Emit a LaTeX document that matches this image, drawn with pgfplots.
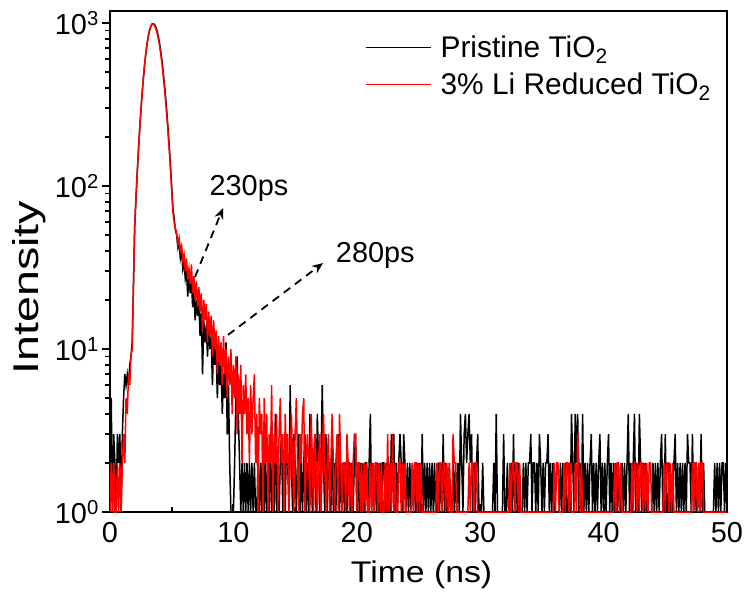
\documentclass[border=0pt]{standalone}
\usepackage{pgfplots}
\pgfplotsset{compat=1.18}
\usepackage{fontspec}
\setmainfont{Liberation Sans}
\usetikzlibrary{arrows.meta}
\begin{document}
\begin{tikzpicture}
\path[use as bounding box] (-110bp,-91bp) rectangle (636bp,512bp);
\begin{axis}[
  scale only axis, width=617bp, height=501bp,
  xmin=0, xmax=50, ymode=log, ymin=1, ymax=1186,
  xtick={0,10,...,50}, minor x tick num=1,
  ytick={1,10,100,1000},
  yticklabels={10\textsuperscript{0},10\textsuperscript{1},10\textsuperscript{2},10\textsuperscript{3}},
  xtick pos=bottom, ytick pos=left,
  xtick align=inside, ytick align=outside,
  major tick length=8bp, minor tick length=5bp,
  axis line style={line width=2.4bp},
  tick style={line width=1.8bp, black},
  /pgf/number format/assume math mode=true,
  tick label style={font=\fontsize{29}{34}\selectfont},
  xticklabel style={inner sep=0pt, yshift=-10bp},
  yticklabel style={inner sep=0pt, xshift=-3bp},
  xlabel={\scalebox{1.13}[1]{Time (ns)}},
  xlabel style={font=\fontsize{30}{36}\selectfont, at={(axis description cs:0.505,-0.1417)}, anchor=base, inner sep=0pt},
  ylabel={\scalebox{1.3}[1]{Intensity}},
  ylabel style={font=\fontsize{36}{43}\selectfont, at={(axis description cs:-0.159,0.448)}, anchor=north, inner sep=0pt},
  no markers,
  legend style={draw=none, fill=none, font=\fontsize{30}{36}\selectfont, at={(axis description cs:0.413,0.955)}, anchor=north west, inner sep=0pt, row sep=10bp, /tikz/every odd column/.style={column sep=7bp}},
  legend image code/.code={\draw[#1, line width=1.6bp] (0bp,0bp) -- (65bp,0bp);},
  legend cell align=left,
]
\addplot[black, line width=1.5bp] coordinates {
(0,2)(0.1,5)(0.2,1)(0.3,3)(0.4,2)(0.5,1)(0.6,3)(0.7,2)(0.8,3)(0.9,1)
(1,3)(1.1,5)(1.2,7)(1.3,6)(1.4,7)(1.5,6)(1.6,8)(1.7,9)(1.8,11)(1.9,24)
(2,56)(2.1,82)(2.2,117)(2.3,163)(2.4,219)(2.5,287)(2.6,366)(2.7,455)(2.8,550)(2.9,648)
(3,742)(3.1,829)(3.2,900)(3.3,952)(3.4,986)(3.5,990)(3.6,980)(3.7,950)(3.8,905)(3.9,840)
(4,765)(4.1,683)(4.2,598)(4.3,512)(4.4,430)(4.5,354)(4.6,286)(4.7,227)(4.8,176)(4.9,134)
(5,99)(5.1,73)(5.2,63)(5.3,54)(5.4,50)(5.5,42)(5.6,45)(5.7,36)(5.8,40)(5.9,31)
(6,34)(6.1,27)(6.2,30)(6.3,21)(6.4,28)(6.5,22)(6.6,26)(6.7,18)(6.8,23)(6.9,15)
(7,20)(7.1,16)(7.2,19)(7.3,12)(7.4,17)(7.5,7)(7.6,15)(7.7,11)(7.8,14)(7.9,9)
(8,13)(8.1,10)(8.2,12)(8.3,6)(8.4,11)(8.5,8)(8.6,10)(8.7,5)(8.8,9)(8.9,6)
(9,8)(9.1,4)(9.2,7)(9.3,5)(9.4,11)(9.5,3)(9.6,6)(9.7,2)(9.8,1)(9.9,1)
(10,1)(10.1,2)(10.2,5)(10.3,9)(10.4,4)(10.5,2)(10.6,1)(10.7,2)(10.8,1)(10.9,2)
(11,1)(11.1,2)(11.2,1)(11.3,2)(11.4,1)(11.5,2)(11.6,1)(11.7,2)(11.8,1)(11.9,1)
(12,2)(12.1,1)(12.2,2)(12.3,1)(12.4,3)(12.5,1)(12.6,2)(12.7,1)(12.8,2)(12.9,1)
(13,3)(13.1,1)(13.2,2)(13.3,1)(13.4,4)(13.5,1)(13.6,2)(13.7,1)(13.8,2)(13.9,3)
(14,1)(14.1,2)(14.2,1)(14.3,3)(14.4,2)(14.5,1)(14.6,6)(14.7,2)(14.8,1)(14.9,3)
(15,2)(15.1,1)(15.2,2)(15.3,3)(15.4,1)(15.5,2)(15.6,1)(15.7,2)(15.8,3)(15.9,1)
(16,2)(16.1,1)(16.2,4)(16.3,2)(16.4,1)(16.5,2)(16.6,3)(16.7,1)(16.8,4)(16.9,2)
(17,1)(17.1,2)(17.2,6)(17.3,2)(17.4,1)(17.5,3)(17.6,1)(17.7,2)(17.8,2)(17.9,1)
(18,3)(18.1,1)(18.2,2)(18.3,1)(18.4,2)(18.5,3)(18.6,1)(18.7,2)(18.8,1)(18.9,2)
(19,1)(19.1,2)(19.2,1)(19.3,2)(19.4,2)(19.5,1)(19.6,2)(19.7,1)(19.8,2)(19.9,3)
(20,1)(20.1,2)(20.2,1)(20.3,2)(20.4,1)(20.5,2)(20.6,1)(20.7,2)(20.8,2)(20.9,1)
(21,2)(21.1,4)(21.2,1)(21.3,2)(21.4,1)(21.5,2)(21.6,1)(21.7,2)(21.8,1)(21.9,2)
(22,1)(22.1,2)(22.2,2)(22.3,1)(22.4,2)(22.5,1)(22.6,2)(22.7,1)(22.8,3)(22.9,2)
(23,3)(23.1,1)(23.2,2)(23.3,1)(23.4,2)(23.5,3)(23.6,2)(23.7,1)(23.8,3)(23.9,2)
(24,1)(24.1,2)(24.2,1)(24.3,2)(24.4,1)(24.5,2)(24.6,1)(24.7,2)(24.8,1)(24.9,2)
(25,1)(25.1,2)(25.2,1)(25.3,3)(25.4,1)(25.5,2)(25.6,1)(25.7,2)(25.8,1)(25.9,2)
(26,1)(26.1,2)(26.2,1)(26.3,2)(26.4,1)(26.5,1)(26.6,2)(26.7,1)(26.8,2)(26.9,1)
(27,3)(27.1,1)(27.2,2)(27.3,1)(27.4,1)(27.5,2)(27.6,1)(27.7,1)(27.8,2)(27.9,1)
(28,2)(28.1,1)(28.2,2)(28.3,1)(28.4,4)(28.5,2)(28.6,1)(28.7,3)(28.8,4)(28.9,2)
(29,3)(29.1,4)(29.2,2)(29.3,3)(29.4,1)(29.5,2)(29.6,1)(29.7,2)(29.8,3)(29.9,1)
(30.1,1)(30.2,2)(30.3,1)(31,1)(31.1,2)(31.2,1)(31.3,4)(31.4,1)(31.8,1)(31.9,3)
(32,1)(32.1,1)(32.2,2)(32.3,1)(32.4,1)(32.5,2)(32.6,1)(32.7,3)(32.8,1)(32.9,2)
(33,1)(33.1,2)(33.2,1)(33.4,1)(33.5,2)(33.6,1)(33.7,2)(33.8,1)(33.9,2)
(34,2)(34.1,3)(34.2,1)(34.3,2)(34.4,2)(34.5,1)(34.6,2)(34.7,1)(34.8,3)(34.9,2)
(35,1)(35.1,2)(35.2,1)(35.3,2)(35.4,2)(35.5,3)(35.6,1)(35.7,2)(35.8,1)(35.9,2)
(36,1)(36.4,1)(36.5,2)(36.6,1)(36.7,2)(36.8,1)(36.9,2)(37,1)(37.1,1)(37.2,2)
(37.3,1)(37.4,4)(37.5,2)(37.6,1)(37.7,4)(37.8,2)(37.9,4)
(38,1)(38.1,2)(38.2,1)(38.3,4)(38.4,1)(38.5,2)(38.6,1)(38.7,2)(38.8,1)(38.9,2)
(39,3)(39.1,1)(39.2,2)(39.3,1)(39.4,2)(39.5,1)(39.6,2)(39.7,3)(39.8,1)(39.9,2)
(40,1)(40.1,2)(40.2,1)(40.3,2)(40.4,3)(40.5,1)(40.6,2)(40.7,1)(40.8,2)(40.9,1)
(41,2)(41.1,1)(41.2,2)(41.3,1)(41.4,1)(41.5,2)(41.6,1)(41.7,2)(41.8,1)(41.9,2)
(42,4)(42.1,1)(42.2,2)(42.3,1)(42.4,2)(42.5,4)(42.6,1)(42.7,2)(42.8,1)(42.9,4)
(43,2)(43.1,1)(43.2,2)(43.3,1)(43.4,2)(43.5,1)(43.9,1)
(44,2)(44.1,1)(44.2,2)(44.3,1)(44.4,2)(44.5,1)(44.6,2)(44.7,3)(44.8,1)(44.9,1)
(45,3)(45.1,1)(45.2,1)(45.3,2)(45.4,1)(45.6,1)(45.7,2)(45.8,3)(45.9,1)
(46,2)(46.1,1)(46.2,2)(46.3,1)(46.4,2)(46.5,1)(46.6,2)(46.7,1)(46.8,3)(46.9,2)
(47,2)(47.1,1)(47.2,3)(47.3,1)(47.4,2)(47.5,1)(47.6,1)(47.7,2)(47.8,1)(47.9,3)
(48,1)(48.1,2)(48.2,1)(48.9,1)(49,2)(49.1,1)(49.2,2)(49.3,1)(49.4,2)(49.5,1)
(49.6,2)(49.7,2)(49.8,1)(49.9,2)(50,1)
};
\addplot[red, line width=1.5bp] coordinates {
(0,1)(0.1,2)(0.2,1)(0.3,2)(0.4,1)(0.5,1)(0.6,2)(0.7,1)(0.8,2)(0.9,1)
(1,2)(1.1,3)(1.2,2)(1.3,5)(1.4,4)(1.5,7)(1.6,6)(1.7,9)(1.8,10)(1.9,25)
(2,57)(2.1,83)(2.2,118)(2.3,164)(2.4,220)(2.5,288)(2.6,367)(2.7,456)(2.8,551)(2.9,649)
(3,743)(3.1,830)(3.2,901)(3.3,953)(3.4,985)(3.5,984)(3.6,968)(3.7,931)(3.8,880)(3.9,815)
(4,739)(4.1,657)(4.2,574)(4.3,490)(4.4,411)(4.5,338)(4.6,272)(4.7,215)(4.8,167)(4.9,127)
(5,94)(5.1,69)(5.2,60)(5.3,55)(5.4,52)(5.5,44)(5.6,48)(5.7,40)(5.8,43)(5.9,35)
(6,38)(6.1,30)(6.2,36)(6.3,27)(6.4,31)(6.5,25)(6.6,33)(6.7,22)(6.8,28)(6.9,20)
(7,26)(7.1,18)(7.2,24)(7.3,17)(7.4,22)(7.5,13)(7.6,20)(7.7,15)(7.8,19)(7.9,11)
(8,17)(8.1,12)(8.2,16)(8.3,9)(8.4,15)(8.5,10)(8.6,13)(8.7,7)(8.8,12)(8.9,8)
(9,11)(9.1,6)(9.2,12)(9.3,7)(9.4,10)(9.5,5)(9.6,9)(9.7,6)(9.8,10)(9.9,4)
(10,8)(10.1,5)(10.2,9)(10.3,3)(10.4,7)(10.5,4)(10.6,8)(10.7,2)(10.8,6)(10.9,4)
(11,7)(11.1,3)(11.2,5)(11.3,2)(11.4,6)(11.5,3)(11.6,5)(11.7,7)(11.8,2)(11.9,4)
(12,1)(12.1,5)(12.2,3)(12.3,4)(12.4,1)(12.5,5)(12.6,2)(12.7,4)(12.8,1)(12.9,3)
(13,2)(13.1,6)(13.2,1)(13.3,3)(13.4,2)(13.5,4)(13.6,1)(13.7,3)(13.8,5)(13.9,2)
(14,3)(14.1,1)(14.2,4)(14.3,2)(14.4,3)(14.5,1)(14.6,2)(14.7,4)(14.8,2)(14.9,1)
(15,3)(15.1,5)(15.2,2)(15.3,1)(15.4,3)(15.5,2)(15.6,4)(15.7,5)(15.8,1)(15.9,2)
(16,3)(16.1,2)(16.2,1)(16.3,4)(16.4,2)(16.5,1)(16.6,3)(16.7,2)(16.8,1)(16.9,2)
(17,3)(17.1,1)(17.2,2)(17.3,4)(17.4,2)(17.5,1)(17.6,2)(17.7,3)(17.8,1)(17.9,2)
(18,4)(18.1,2)(18.2,1)(18.3,2)(18.4,3)(18.5,1)(18.6,4)(18.7,2)(18.8,1)(18.9,2)
(19,2)(19.1,1)(19.2,3)(19.3,2)(19.4,1)(19.5,2)(19.6,1)(19.7,2)(19.8,3)(19.9,3)
(20,1)(20.1,2)(20.2,2)(20.3,1)(20.4,2)(20.5,1)(20.6,2)(20.7,1)(20.8,2)(20.9,1)
(21,1)(21.1,2)(21.2,1)(21.3,2)(21.4,1)(21.5,2)(21.6,2)(21.7,1)(21.8,2)(21.9,1)
(22,2)(22.1,1)(22.2,1)(22.3,2)(22.4,1)(22.5,3)(22.6,1)(22.7,2)(22.8,1)(22.9,3)
(23,1)(23.1,2)(23.2,1)(23.3,1)(23.4,2)(23.5,2)(23.6,1)(23.7,2)(23.8,1)(23.9,2)
(24,1)(24.4,1)(24.5,2)(24.6,1)(24.7,2)(24.8,2)(24.9,1)
(25,2)(25.1,1)(25.2,2)(25.3,1)(26.4,1)(26.5,2)(26.6,1)(26.7,2)(26.8,2)(26.9,1)
(27,2)(27.1,2)(27.2,1)(27.3,2)(27.4,1)(27.5,2)(27.6,1)(27.7,1)(27.8,3)(27.9,2)
(28,2)(28.1,1)(29,1)(29.1,2)(29.2,1)(29.3,2)(29.4,2)(29.5,1)(29.6,2)(29.7,2)(29.8,1)
(32.3,1)(32.4,2)(32.5,1)(32.6,2)(32.7,2)(32.8,1)(32.9,2)(33,2)(33.1,1)(33.2,2)(33.3,1)
(35.9,1)(36,2)(36.1,1)(36.2,2)(36.3,2)(36.4,1)(36.7,1)(36.8,2)(36.9,1)(37,2)(37.1,2)
(37.2,1)(37.3,2)(37.4,1)(37.6,1)(37.7,2)(37.8,1)(37.9,3)(38,2)(38.1,1)(38.2,2)(38.3,1)
(40.8,1)(40.9,2)(41,1)(41.1,2)(41.2,2)(41.3,1)(41.4,2)(41.5,1)(42.2,1)(42.3,2)(42.4,1)
(42.5,2)(42.6,2)(42.7,1)(42.8,2)(42.9,1)(43,2)(43.1,2)(43.2,1)(43.3,2)(43.4,1)(43.5,2)
(43.6,1)(43.7,2)(43.8,2)(43.9,1)(44.8,1)(44.9,2)(45,1)(45.1,2)(45.2,2)(45.3,1)(45.4,2)
(45.5,1)(45.6,2)(45.7,1)(47.1,1)(47.2,2)(47.3,1)(47.4,2)(47.5,2)(47.6,1)(47.7,2)(47.8,1)
(47.9,2)(48,2)(48.1,1)(50,1)
};
\legend{Pristine TiO\textsubscript{2}, 3\% Li Reduced TiO\textsubscript{2}}
\draw[dash pattern=on 8bp off 6bp, line width=1.8bp, -{Stealth[length=11bp,width=9bp]}] (axis cs:6.89,27.7) -- (axis cs:9.16,73.3);
\node[font=\fontsize{29}{34}\selectfont] at (axis cs:11.26,97.2) {230ps};
\draw[dash pattern=on 8bp off 6bp, line width=1.8bp, -{Stealth[length=11bp,width=9bp]}] (axis cs:9.56,12.2) -- (axis cs:17.26,33.7);
\node[font=\fontsize{29}{34}\selectfont] at (axis cs:21.5,37.7) {280ps};
\end{axis}
\end{tikzpicture}
\end{document}
